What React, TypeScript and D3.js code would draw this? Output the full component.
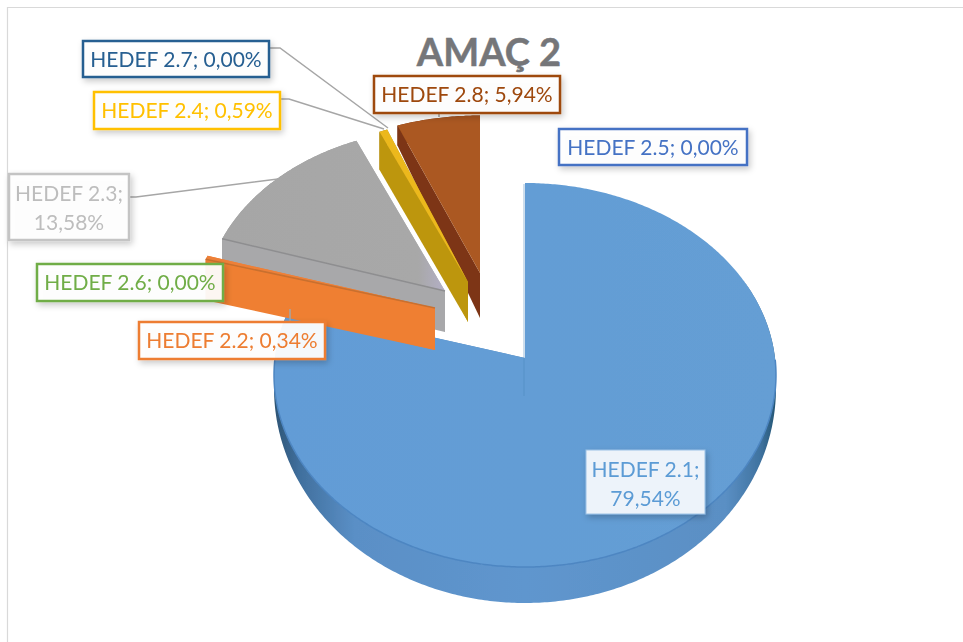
import * as d3 from "d3";

const categories = [
  "HEDEF 2.1",
  "HEDEF 2.2",
  "HEDEF 2.3",
  "HEDEF 2.4",
  "HEDEF 2.5",
  "HEDEF 2.6",
  "HEDEF 2.7",
  "HEDEF 2.8",
];
const values = [79.54, 0.34, 13.58, 0.59, 0.0, 0.0, 0.0, 5.94];
const labelText = ["79,54%", "0,34%", "13,58%", "0,59%", "0,00%", "0,00%", "0,00%", "5,94%"];
const colors = ["#5b9bd5", "#ed7d31", "#a5a5a5", "#ffc000", "#4472c4", "#70ad47", "#255e91", "#9e480e"];

// exploded slices: apex on screen, scale and extrusion
const sliceGeom: any = {
  "HEDEF 2.1": { ax: 525, ay: 358, sx: 1, sy: 1, dA: 36, dR: 36, front: true, top: "url(#blueTop)", wall: "#4f86bd", side: "url(#blueSide)", rim: "#4d86c2" },
  "HEDEF 2.2": { ax: 435, ay: 308, sx: 0.98, sy: 0.93, dA: 42, dR: 41, top: "#ee8038", wall: "#ef7f33", side: "#d96f28", edge: "#c9702f" },
  "HEDEF 2.3": { ax: 445, ay: 291, sx: 0.96, sy: 0.93, dA: 41, dR: 41, top: "url(#greyTop)", wall: "#a8a8aa", side: "#999999", edge: "#8e8e90" },
  "HEDEF 2.4": { ax: 468, ay: 282, sx: 0.96, sy: 0.93, dA: 40, dR: 38, top: "#ecb81f", wall: "#bd9610", side: "#a9860d" },
  "HEDEF 2.8": { ax: 480, ay: 273, sx: 0.98, sy: 0.9, dA: 45, dR: 20, top: "#ab5820", wall: "#7d3617", side: "#7d3617" },
};
const drawOrder = ["HEDEF 2.1", "HEDEF 2.8", "HEDEF 2.4", "HEDEF 2.3", "HEDEF 2.2"];

const labelBoxes: any = {
  "HEDEF 2.1": { x: 586, y: 450, w: 119, h: 64, two: true },
  "HEDEF 2.2": { x: 139, y: 322, w: 186, h: 37 },
  "HEDEF 2.3": { x: 9, y: 174, w: 120, h: 66, two: true },
  "HEDEF 2.4": { x: 94, y: 92, w: 186, h: 37 },
  "HEDEF 2.5": { x: 559, y: 129, w: 188, h: 36 },
  "HEDEF 2.6": { x: 37, y: 264, w: 186, h: 37 },
  "HEDEF 2.7": { x: 83, y: 41, w: 186, h: 36 },
  "HEDEF 2.8": { x: 374, y: 76, w: 186, h: 37 },
};

const leaders = [
  [[270, 48], [280, 48], [388, 128]],
  [[280, 99], [289, 99], [384, 129]],
  [[129, 197], [136, 197], [278, 179]],
  [[439, 113], [439, 117]],
  [[290, 322], [290, 309]],
];

const R = 250;
const persp = 0.0885;
const KY = 190.5;

const makeProject = (g: any) => (theta: number, r: number, depth = 0) => {
  const s = Math.sin(theta) * r;
  const t = Math.cos(theta) * r; // 1 at the back
  const w = 1 + persp * t;
  return [g.ax + (g.sx * R * s) / w, g.ay - (g.sy * KY * t) / w + depth] as [number, number];
};

// the big slice's rim gets thinner towards its sides
const rimDepth = (g: any, a: number) =>
  g.front ? g.dR * Math.max(0, 0.3 + 0.7 * -Math.cos(a)) : g.dR;

const line = d3.line();

const slicePaths = (g: any, a0: number, a1: number) => {
  const p = makeProject(g);
  const steps = d3.range(a0, a1, 0.01).concat([a1]);
  const arcLine = steps.map((a) => p(a, 1));
  const top = line([p(a0, 0), ...arcLine]) + "Z";
  const side =
    line([...arcLine, ...steps.slice().reverse().map((a) => p(a, 1, rimDepth(g, a)))]) + "Z";
  const wallA = line([p(a0, 0), p(a0, 1), p(a0, 1, g.dR), p(a0, 0, g.dA)]) + "Z";
  const wallB = line([p(a1, 0), p(a1, 1), p(a1, 1, g.dR), p(a1, 0, g.dA)]) + "Z";
  const edge = line([p(a0, 0), p(a0, 1)]) || "";
  const rim = line(steps.filter((a) => Math.cos(a) < 0).map((a) => p(a, 1))) || "";
  return { top, side, wallA, wallB, edge, rim };
};

export default function App() {
  const arcs = d3.pie<number>().sort(null)(values);
  const font = "Lato, 'Open Sans', sans-serif";

  return (
    <svg width={963} height={642} style={{ position: "absolute", left: 0, top: 0 }}>
      <defs>
        <linearGradient id="blueTop" x1="0" x2="1" y1="0" y2="0">
          <stop offset="0" stopColor="#629cd6" />
          <stop offset="1" stopColor="#659ed4" />
        </linearGradient>
        <linearGradient id="greyTop" x1="0" x2="1" y1="0" y2="0">
          <stop offset="0" stopColor="#a6a6a6" />
          <stop offset="0.88" stopColor="#a8a8a8" />
          <stop offset="1" stopColor="#b3afc6" />
        </linearGradient>
        <linearGradient id="blueSide" x1="0" x2="1" y1="0" y2="0">
          <stop offset="0" stopColor="#2d5474" />
          <stop offset="0.05" stopColor="#406f9d" />
          <stop offset="0.16" stopColor="#5a8fc6" />
          <stop offset="0.5" stopColor="#5f96ce" />
          <stop offset="0.9" stopColor="#5a8fc4" />
          <stop offset="0.97" stopColor="#3f729f" />
          <stop offset="1" stopColor="#245573" />
        </linearGradient>
        <filter id="soft" x="-5%" y="-5%" width="110%" height="110%">
          <feGaussianBlur stdDeviation="0.6" />
        </filter>
        <filter id="shadow" x="-10%" y="-20%" width="125%" height="150%">
          <feDropShadow dx="2" dy="3" stdDeviation="3" floodColor="#000" floodOpacity="0.22" />
        </filter>
      </defs>

      <path d="M963,7.5H7.5V642" fill="none" stroke="#d9d9d9" strokeWidth={1.2} />

      <text
        x={489}
        y={66}
        textAnchor="middle"
        fontFamily={font}
        fontWeight={700}
        fontSize={38}
        fill="#757679"
        stroke="#757679"
        strokeWidth={0.5}
      >
        AMAÇ 2
      </text>

      <g filter="url(#soft)">
        {drawOrder.map((name) => {
          const i = categories.indexOf(name);
          const g = sliceGeom[name];
          const { top, side, wallA, wallB, edge, rim } = slicePaths(g, arcs[i].startAngle, arcs[i].endAngle);
          return (
            <g key={name}>
              <path d={side} fill={g.side} />
              <path d={wallB} fill={g.wall} />
              <path d={wallA} fill={g.wall} />
              <path d={top} fill={g.top} />
              {g.edge && <path d={edge} fill="none" stroke={g.edge} strokeWidth={1.5} />}
              {g.rim && <path d={rim} fill="none" stroke={g.rim} strokeWidth={1.5} />}
            </g>
          );
        })}
      </g>
      <path d="M524,184V396" stroke="#4f86bd" strokeWidth={1} opacity={0.55} fill="none" />

      {leaders.map((pts, i) => (
        <path key={i} d={line(pts as any) || ""} fill="none" stroke="#a6a6a6" strokeWidth={1.5} />
      ))}

      {categories.map((name, i) => {
        const b = labelBoxes[name];
        const isMain = i === 0;
        const tx = b.x + b.w / 2;
        const textFill = i === 2 ? "#bdbdbd" : colors[i];
        return (
          <g key={name} filter="url(#shadow)">
            <rect
              x={b.x}
              y={b.y}
              width={b.w}
              height={b.h}
              fill={isMain ? "#edf3fa" : "#ffffff"}
              fillOpacity={isMain ? 1 : 0.93}
              stroke={isMain ? "#9cc2e5" : i === 2 ? "#c4c4c4" : colors[i]}
              strokeWidth={isMain ? 1 : 2.5}
            />
            {b.two ? (
              <text textAnchor="middle" fontFamily={font} fontSize={21} fill={textFill}>
                <tspan x={tx} y={b.y + 27}>{name};</tspan>
                <tspan x={tx} y={b.y + 56}>{labelText[i]}</tspan>
              </text>
            ) : (
              <text x={tx} y={b.y + 26} textAnchor="middle" fontFamily={font} fontSize={21} fill={textFill}>
                {name}; {labelText[i]}
              </text>
            )}
          </g>
        );
      })}
    </svg>
  );
}
